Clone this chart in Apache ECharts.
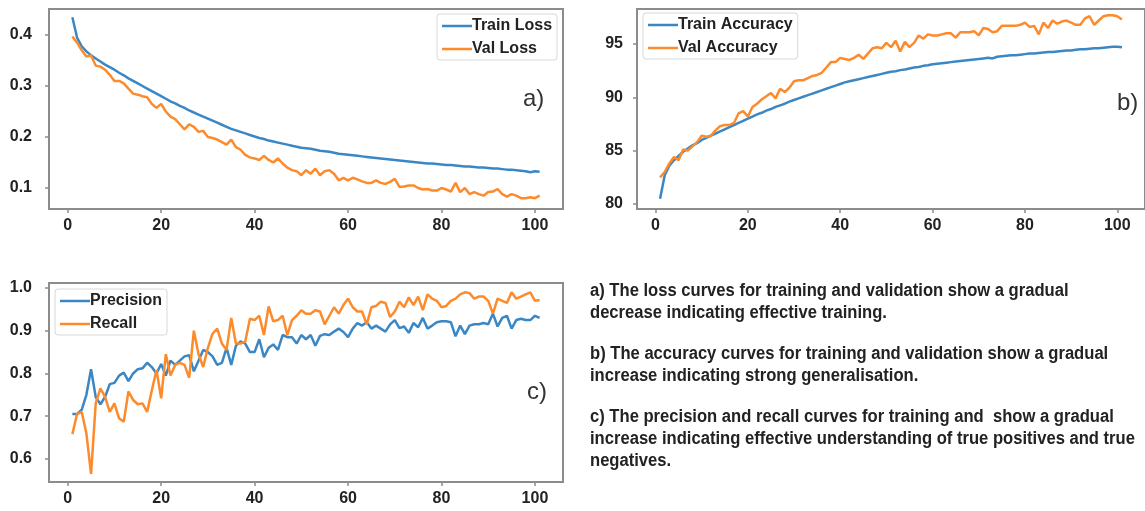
<!DOCTYPE html>
<html>
<head>
<meta charset="utf-8">
<script src="https://cdn.jsdelivr.net/npm/echarts@6/dist/echarts.min.js"></script>
<style>
html,body{margin:0;padding:0;background:#fff;}
#chart{width:1145px;height:511px;}
</style>
</head>
<body>
<div id="chart"></div>
<script>
// ---------- data ----------
const epochs = Array.from({length: 101}, (_, i) => i + 1);
const xTicks = [0, 20, 40, 60, 80, 100];
const lossTicks = [0.1, 0.2, 0.3, 0.4];
const accTicks = [80, 85, 90, 95];
const prTicks = [0.6, 0.7, 0.8, 0.9, 1.0];

const trainLoss = [0.435,0.395,0.378,0.368,0.36,0.354,0.348,0.342,0.337,0.332,
0.326,0.321,0.315,0.31,0.305,0.3,0.295,0.29,0.285,0.28,
0.275,0.27,0.266,0.261,0.257,0.252,0.248,0.244,0.24,0.236,
0.232,0.228,0.224,0.22,0.216,0.213,0.21,0.207,0.204,0.201,
0.198,0.196,0.193,0.191,0.189,0.187,0.185,0.183,0.181,0.179,
0.178,0.177,0.175,0.173,0.172,0.171,0.169,0.167,0.166,0.165,
0.164,0.163,0.162,0.161,0.16,0.159,0.158,0.157,0.156,0.155,
0.154,0.153,0.152,0.151,0.15,0.149,0.148,0.148,0.147,0.146,
0.145,0.145,0.144,0.143,0.142,0.142,0.141,0.14,0.14,0.139,
0.138,0.138,0.137,0.136,0.136,0.135,0.134,0.133,0.131,0.133,0.132];

const valLoss = [0.397,0.385,0.37,0.358,0.36,0.34,0.338,0.332,0.322,0.31,
0.31,0.305,0.295,0.285,0.283,0.28,0.278,0.265,0.257,0.265,
0.25,0.24,0.235,0.225,0.215,0.225,0.22,0.21,0.212,0.2,
0.198,0.195,0.19,0.185,0.195,0.18,0.175,0.165,0.16,0.158,
0.155,0.163,0.155,0.15,0.158,0.148,0.14,0.135,0.133,0.125,
0.135,0.128,0.138,0.125,0.133,0.135,0.128,0.115,0.12,0.115,
0.12,0.117,0.113,0.11,0.11,0.115,0.11,0.108,0.112,0.118,
0.102,0.103,0.105,0.105,0.1,0.097,0.098,0.095,0.095,0.1,
0.097,0.093,0.11,0.092,0.1,0.088,0.092,0.088,0.085,0.092,
0.093,0.098,0.088,0.083,0.088,0.085,0.08,0.08,0.082,0.08,0.085];

const trainAcc = [80.5,82.7,83.6,84.1,84.5,84.9,85.2,85.5,85.7,86.0,
86.2,86.4,86.6,86.8,87.0,87.2,87.4,87.6,87.8,88.0,
88.2,88.4,88.55,88.75,88.9,89.1,89.25,89.4,89.6,89.75,
89.9,90.05,90.2,90.35,90.5,90.65,90.8,90.95,91.1,91.25,
91.4,91.5,91.6,91.7,91.8,91.9,92.0,92.1,92.2,92.3,
92.4,92.45,92.55,92.6,92.7,92.8,92.85,92.95,93.0,93.1,
93.15,93.2,93.25,93.3,93.35,93.4,93.45,93.5,93.55,93.6,
93.65,93.7,93.65,93.8,93.85,93.9,93.95,93.95,94.0,94.05,
94.1,94.1,94.15,94.2,94.25,94.25,94.3,94.35,94.4,94.4,
94.45,94.5,94.5,94.55,94.6,94.6,94.65,94.7,94.75,94.75,94.7];

const valAcc = [82.5,83.0,83.8,84.4,84.1,85.1,85.0,85.4,85.8,86.4,
86.3,86.4,86.9,87.3,87.4,87.4,87.6,88.5,88.7,88.2,
89.1,89.4,89.8,90.1,90.4,89.9,90.8,90.5,90.9,91.5,
91.6,91.6,91.8,92.0,92.1,92.3,92.8,93.3,93.3,93.7,
93.6,93.5,93.7,94.0,93.6,94.1,94.6,94.7,94.6,95.1,
94.7,95.3,94.3,95.2,94.7,95.1,95.8,95.5,95.9,95.8,
95.8,95.9,96.0,96.0,95.6,96.1,96.1,96.1,96.2,95.8,
96.5,96.4,96.1,96.2,96.7,96.7,96.7,96.7,96.8,97.0,
96.6,96.7,95.9,97.0,96.5,97.2,96.9,97.1,97.2,97.0,
96.8,96.8,97.4,97.6,96.8,97.2,97.6,97.7,97.7,97.6,97.3];

const precision = [0.705,0.705,0.715,0.75,0.81,0.745,0.728,0.745,0.775,0.778,
0.795,0.802,0.782,0.8,0.81,0.812,0.825,0.815,0.8,0.822,
0.795,0.83,0.82,0.83,0.84,0.843,0.805,0.83,0.855,0.85,
0.84,0.82,0.825,0.86,0.82,0.865,0.875,0.87,0.85,0.85,
0.88,0.838,0.86,0.868,0.855,0.89,0.885,0.885,0.87,0.89,
0.88,0.89,0.865,0.888,0.892,0.89,0.898,0.905,0.897,0.885,
0.905,0.918,0.912,0.92,0.905,0.912,0.905,0.898,0.915,0.925,
0.906,0.91,0.895,0.918,0.908,0.93,0.905,0.912,0.92,0.922,
0.922,0.92,0.887,0.912,0.892,0.912,0.915,0.915,0.918,0.915,
0.94,0.91,0.93,0.935,0.905,0.925,0.928,0.925,0.925,0.935,0.93];

const recall = [0.658,0.705,0.71,0.66,0.565,0.73,0.765,0.745,0.71,0.73,
0.695,0.687,0.758,0.738,0.728,0.73,0.71,0.76,0.808,0.742,
0.845,0.795,0.82,0.825,0.82,0.79,0.9,0.845,0.815,0.86,
0.893,0.905,0.87,0.855,0.93,0.87,0.87,0.875,0.928,0.925,
0.935,0.89,0.957,0.922,0.925,0.935,0.89,0.925,0.935,0.948,
0.94,0.94,0.948,0.945,0.915,0.935,0.955,0.94,0.96,0.975,
0.955,0.945,0.945,0.915,0.955,0.958,0.968,0.965,0.932,0.945,
0.968,0.955,0.978,0.96,0.98,0.948,0.985,0.975,0.97,0.955,
0.958,0.97,0.975,0.985,0.99,0.988,0.975,0.98,0.98,0.97,
0.94,0.975,0.97,0.965,0.99,0.975,0.98,0.985,0.99,0.97,0.972];

const panelLabels = ['a)', 'b)', 'c)'];
const captionLines = [
  ['a) The loss curves for training and validation show a gradual', 'decrease indicating effective training.'],
  ['b) The accuracy curves for training and validation show a gradual', 'increase indicating strong generalisation.'],
  ['c) The precision and recall curves for training and  show a gradual', 'increase indicating effective understanding of true positives and true', 'negatives.']
];

// ---------- styles ----------
const BLUE = '#3b87c4';
const ORANGE = '#fd8b2b';
const SPINE = '#8c8c8c';
const FONT = '"Liberation Sans", Arial, sans-serif';

const pairs = (ys) => ys.map((y, i) => [epochs[i], y]);

function xAxis(gi) {
  return {
    type: 'value', gridIndex: gi, min: -4, max: 106,
    axisLine: {show: false, onZero: false}, splitLine: {show: false},
    axisTick: {show: true, length: 4, customValues: xTicks, lineStyle: {color: SPINE, width: 1.5}},
    axisLabel: {customValues: xTicks, margin: 9, color: '#222', fontFamily: FONT, fontWeight: 'bold', fontSize: 16}
  };
}
function yAxis(gi, min, max, ticks, fmt, margin) {
  return {
    type: 'value', gridIndex: gi, min: min, max: max,
    axisLine: {show: false, onZero: false}, splitLine: {show: false},
    axisTick: {show: true, length: 4, customValues: ticks, lineStyle: {color: SPINE, width: 1.5}},
    axisLabel: {customValues: ticks, margin: margin, color: '#222', fontFamily: FONT, fontWeight: 'bold', fontSize: 16, formatter: fmt}
  };
}
function line(name, gi, ys, color) {
  return {name: name, type: 'line', xAxisIndex: gi, yAxisIndex: gi, data: pairs(ys),
    symbol: 'none', smooth: false, lineStyle: {color: color, width: 2.5}, itemStyle: {color: color}};
}
function legend(names, left, top) {
  return {
    data: names.map(n => ({name: n, icon: 'rect'})), orient: 'vertical', left: left, top: top,
    itemWidth: 30, itemHeight: 2.5, itemGap: 7,
    padding: [4, 5, 3, 5], borderColor: '#d8d8d8', borderWidth: 1, borderRadius: 3,
    backgroundColor: '#fff',
    textStyle: {color: '#222', fontFamily: FONT, fontWeight: 'bold', fontSize: 16, padding: [0, 0, 0, -5]}
  };
}

const graphics = [];
const labelPos = [[523, 100], [1117, 104], [527, 393]];
panelLabels.forEach((t, i) => {
  graphics.push({type: 'text', left: labelPos[i][0], top: labelPos[i][1] - 13,
    style: {text: t, fill: '#333', font: '24px "Liberation Sans", Arial, sans-serif'}});
});
const lineYs = [[291, 313], [354, 376], [417, 439, 461]];
captionLines.forEach((grp, gi) => {
  grp.forEach((t, li) => {
    graphics.push({type: 'text', x: 590, y: lineYs[gi][li], scaleY: 1.1,
      style: {text: t, fill: '#222', font: 'bold 16.6px ' + FONT, textVerticalAlign: 'middle'}});
  });
});

const fmt1 = (v) => v.toFixed(1);
const fmt0 = (v) => String(Math.round(v));

const option = {
  backgroundColor: '#fff',
  animation: false,
  grid: [
    {left: 49, top: 9, width: 514, height: 200, show: true, borderColor: SPINE, borderWidth: 2, backgroundColor: 'transparent'},
    {left: 637, top: 9, width: 516, height: 200, show: true, borderColor: SPINE, borderWidth: 2, backgroundColor: 'transparent'},
    {left: 49, top: 283, width: 514, height: 199, show: true, borderColor: SPINE, borderWidth: 2, backgroundColor: 'transparent'}
  ],
  xAxis: [xAxis(0), xAxis(1), xAxis(2)],
  yAxis: [
    yAxis(0, 0.0588, 0.451, lossTicks, fmt1, 17),
    yAxis(1, 79.53, 98.28, accTicks, fmt0, 14),
    yAxis(2, 0.546, 1.0117, prTicks, fmt1, 17)
  ],
  legend: [
    legend(['Train Loss', 'Val Loss'], 437, 14),
    legend(['Train Accuracy', 'Val Accuracy'], 643, 13),
    legend(['Precision', 'Recall'], 55, 289)
  ],
  series: [
    line('Train Loss', 0, trainLoss, BLUE),
    line('Val Loss', 0, valLoss, ORANGE),
    line('Train Accuracy', 1, trainAcc, BLUE),
    line('Val Accuracy', 1, valAcc, ORANGE),
    line('Precision', 2, precision, BLUE),
    line('Recall', 2, recall, ORANGE)
  ],
  graphic: graphics
};

const chart = echarts.init(document.getElementById('chart'), null, {renderer: 'canvas'});
chart.setOption(option);
</script>
</body>
</html>
